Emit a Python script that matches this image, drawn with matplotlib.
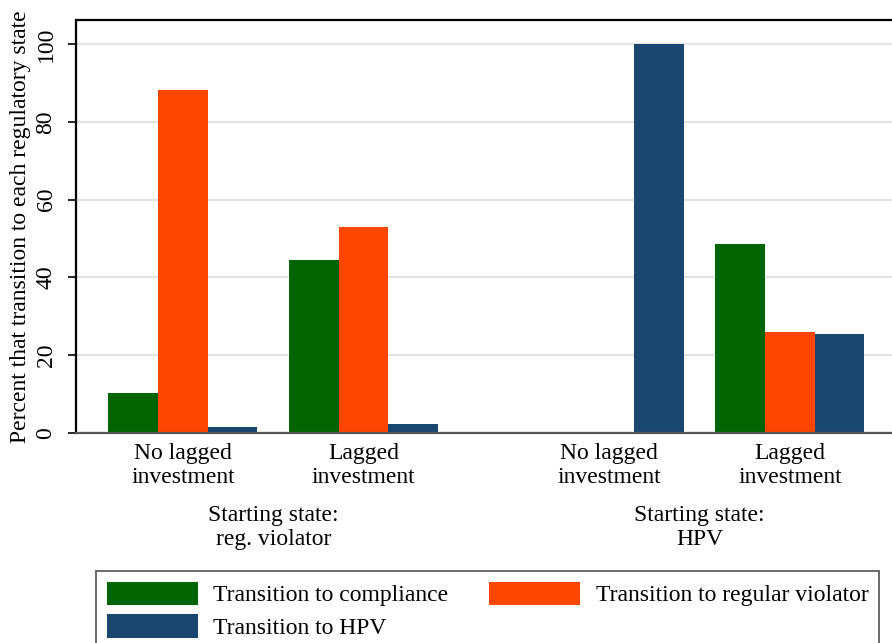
import matplotlib
matplotlib.use("Agg")
import matplotlib.pyplot as plt
import matplotlib.transforms as mtransforms
import numpy as np

plt.rcParams['font.family'] = ['Liberation Serif', 'DejaVu Serif']

# Data
categories = ["No lagged\ninvestment", "Lagged\ninvestment", "No lagged\ninvestment", "Lagged\ninvestment"]
supergroups = ["Starting state:\nreg. violator", "Starting state:\nHPV"]
series_names = ["Transition to compliance", "Transition to regular violator", "Transition to HPV"]
compliance = [10.3, 44.5, 0.3, 48.6]
regular = [88.1, 53.0, 0.3, 26.1]
hpv = [1.6, 2.4, 100.0, 25.5]
yticks = [0, 20, 40, 60, 80, 100]

colors = ["#006400", "#ff4500", "#1a476f"]
FS = 17

W, H = 892, 643
fig = plt.figure(figsize=(W / 100, H / 100), dpi=100)
ax = fig.add_axes([76 / W, 1 - 433 / H, (W - 76) / W + 0.01, (433 - 20) / H])

centers = np.array([0.0, 3.64, 8.59, 12.23])
bw = 1.0
handles = []
for i, (vals, c) in enumerate(zip([compliance, regular, hpv], colors)):
    b = ax.bar(centers + (i - 1) * bw, vals, width=bw, color=c, label=series_names[i],
               zorder=3, linewidth=0)
    handles.append(b)

ax.set_xlim(-2.153, -2.153 + (W - 76) / 49.7 + 0.2)
ax.set_ylim(0, 106.2)
ax.set_yticks(yticks)
ax.set_yticklabels([str(t) for t in yticks], rotation=90, va='center', fontsize=FS)
ax.yaxis.grid(True, color="#e3e3e3", linewidth=1.6, zorder=0)
ax.set_axisbelow(True)
ax.tick_params(axis='y', length=6, width=1.2, pad=8)
ax.set_xticks(centers)
ax.set_xticklabels(categories, fontsize=FS, linespacing=1.2)
ax.tick_params(axis='x', length=0, pad=7)

ax.set_ylabel("Percent that transition to each regulatory state", fontsize=FS, labelpad=3)

ax.spines['right'].set_visible(False)
ax.spines['left'].set_linewidth(1.6)
ax.spines['left'].set_color('black')
ax.spines['top'].set_linewidth(1.6)
ax.spines['top'].set_color('black')
ax.spines['bottom'].set_color('#555555')
ax.spines['bottom'].set_linewidth(1.6)
ax.spines['bottom'].set_zorder(4)

# super group labels
blend = mtransforms.blended_transform_factory(ax.transData, fig.transFigure)
for j, lab in enumerate(supergroups):
    xc = (centers[2 * j] + centers[2 * j + 1]) / 2
    ax.text(xc, 1 - 505 / H, lab, transform=blend, ha='center', va='top',
            fontsize=FS, linespacing=1.2)

order = [0, 2, 1]
leg = fig.legend([handles[k] for k in order], [series_names[k] for k in order],
                 loc='upper left', bbox_to_anchor=(96 / W, 1 - 571 / H), ncol=2,
                 fontsize=FS, handlelength=3.85, handleheight=1.15, handletextpad=0.65,
                 columnspacing=1.75, labelspacing=0.33, borderpad=0.45,
                 frameon=True, fancybox=False, edgecolor='#444444', borderaxespad=0)
leg.get_frame().set_linewidth(1.4)

fig.savefig("out.png", dpi=100)
